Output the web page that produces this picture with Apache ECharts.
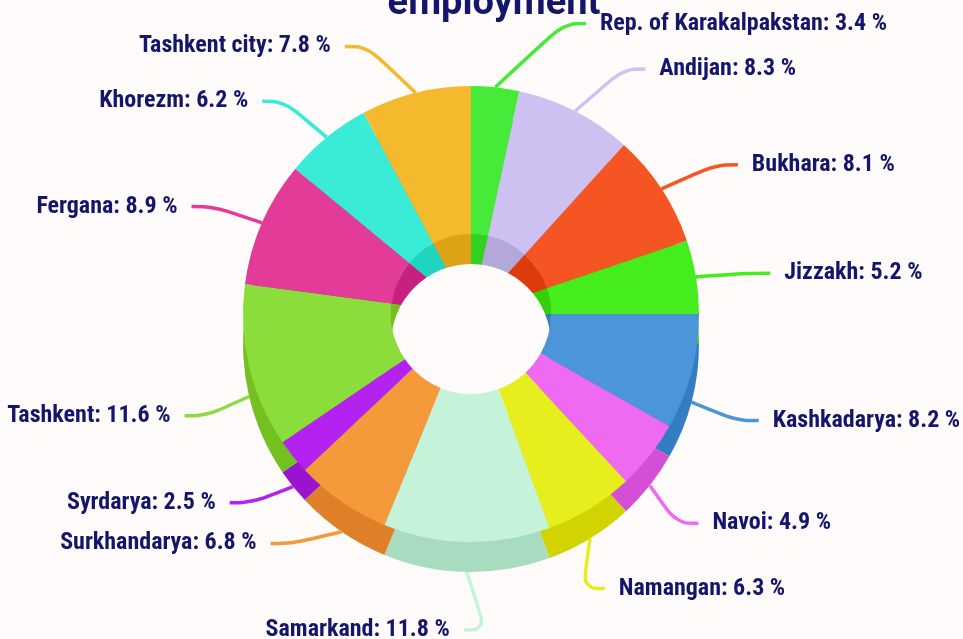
<!DOCTYPE html>
<html>
<head>
<meta charset="utf-8">
<script src="https://cdn.jsdelivr.net/npm/echarts@6/dist/echarts.min.js"></script>
<style>
  html, body { margin: 0; padding: 0; background: #fffbfb; }
  #chart { width: 963px; height: 639px; }
</style>
</head>
<body>
<div id="chart"></div>
<script>
// regions and their share of employment, %
const regions = [
  "Rep. of Karakalpakstan", "Andijan", "Bukhara", "Jizzakh", "Kashkadarya",
  "Navoi", "Namangan", "Samarkand", "Surkhandarya", "Syrdarya",
  "Tashkent", "Fergana", "Khorezm", "Tashkent city"
];
const shares = [3.4, 8.3, 8.1, 5.2, 8.2, 4.9, 6.3, 11.8, 6.8, 2.5, 11.6, 8.9, 6.2, 7.8];

// top face colours and darker side colours
const topColors = [
  "#46eb3a", "#cdc1f2", "#f55523", "#45ed1c", "#4d95d9",
  "#ee6af0", "#e6ee1e", "#c5f3d9", "#f59a3a", "#b521f0",
  "#8bdd3b", "#e33b98", "#3aebd8", "#f5b92e"
];
const sideColors = [
  "#33d121", "#b3a8d9", "#dd3c0a", "#30d10a", "#357dc2",
  "#d44fd6", "#d1d400", "#a8dcc0", "#df8028", "#9a14d0",
  "#74c021", "#c91f7f", "#1fd4c1", "#dea215"
];

const bg = "#fffbfb";
const navy = "#14166b";
const cx = 471, cy = 314, depth = 30;
const rIn = 80, rOut = 228;

// small hand nudges of some labels, so they sit like in the original layout
const labelNudge = {
  "Rep. of Karakalpakstan": [63, -16],
  "Andijan": [24, 0],
  "Bukhara": [10, 0],
  "Kashkadarya": [-6, 0],
  "Navoi": [-15, 0],
  "Namangan": [-35, 0],
  "Samarkand": [20, 0],
  "Surkhandarya": [-19, -37],
  "Syrdarya": [0, -22],
  "Tashkent": [9, 2],
  "Khorezm": [-9, 0],
  "Tashkent city": [-36, 0]
};

const chart = echarts.init(document.getElementById("chart"));

function items(colors) {
  return regions.map((name, i) => ({
    name: name,
    value: shares[i],
    itemStyle: { color: colors[i] }
  }));
}

const common = {
  type: "pie",
  startAngle: 90,
  clockwise: true,
  silent: true,
  animation: false,
  label: { show: false },
  labelLine: { show: false },
  itemStyle: { borderWidth: 0 }
};

chart.setOption({
  backgroundColor: bg,
  title: {
    text: "employment",
    left: 489,
    textAlign: "center",
    top: -20,
    textStyle: { color: navy, fontSize: 38, fontWeight: "bold", fontFamily: "Roboto" }
  },
  series: [
    // side of the cylinder
    Object.assign({}, common, {
      z: 1,
      center: [cx, cy + depth],
      radius: [0, rOut],
      data: items(sideColors)
    }),
    // inner wall seen through the hole
    Object.assign({}, common, {
      z: 2,
      center: [cx, cy],
      radius: [0, rIn],
      data: items(sideColors)
    }),
    // the hole itself
    Object.assign({}, common, {
      z: 3,
      center: [cx, cy + depth],
      radius: [0, rIn],
      data: [{ name: "hole", value: 1, itemStyle: { color: bg } }]
    }),
    // top face with labels
    {
      type: "pie",
      z: 4,
      startAngle: 90,
      clockwise: true,
      animation: false,
      center: [cx, cy],
      radius: [rIn, rOut],
      itemStyle: { borderWidth: 0 },
      data: items(topColors),
      label: {
        show: true,
        formatter: "{b}: {c} %",
        color: navy,
        fontSize: 24,
        fontWeight: "bold",
        fontFamily: "Roboto Condensed",
        overflow: "none",
        distanceToLabelLine: 14
      },
      labelLine: {
        show: true,
        length: 53,
        length2: 22,
        smooth: 0.4,
        lineStyle: { width: 3.5 }
      },
      // the lower half of the labels hangs from the bottom of the side
      labelLayout: function (p) {
        const pts = p.labelLinePoints;
        if (!pts) return {};
        const low = pts[0][1] > cy;
        const base = low ? depth : 0;
        const n = labelNudge[regions[p.dataIndex]] || [0, 0];
        const dx = n[0], dy = 5 + n[1];
        return {
          dx: dx,
          dy: base + dy,
          labelLinePoints: pts.map((pt, k) => k === 0
            ? [pt[0], pt[1] + base]
            : [pt[0] + dx, pt[1] + base + dy])
        };
      }
    }
  ]
});
</script>
</body>
</html>
